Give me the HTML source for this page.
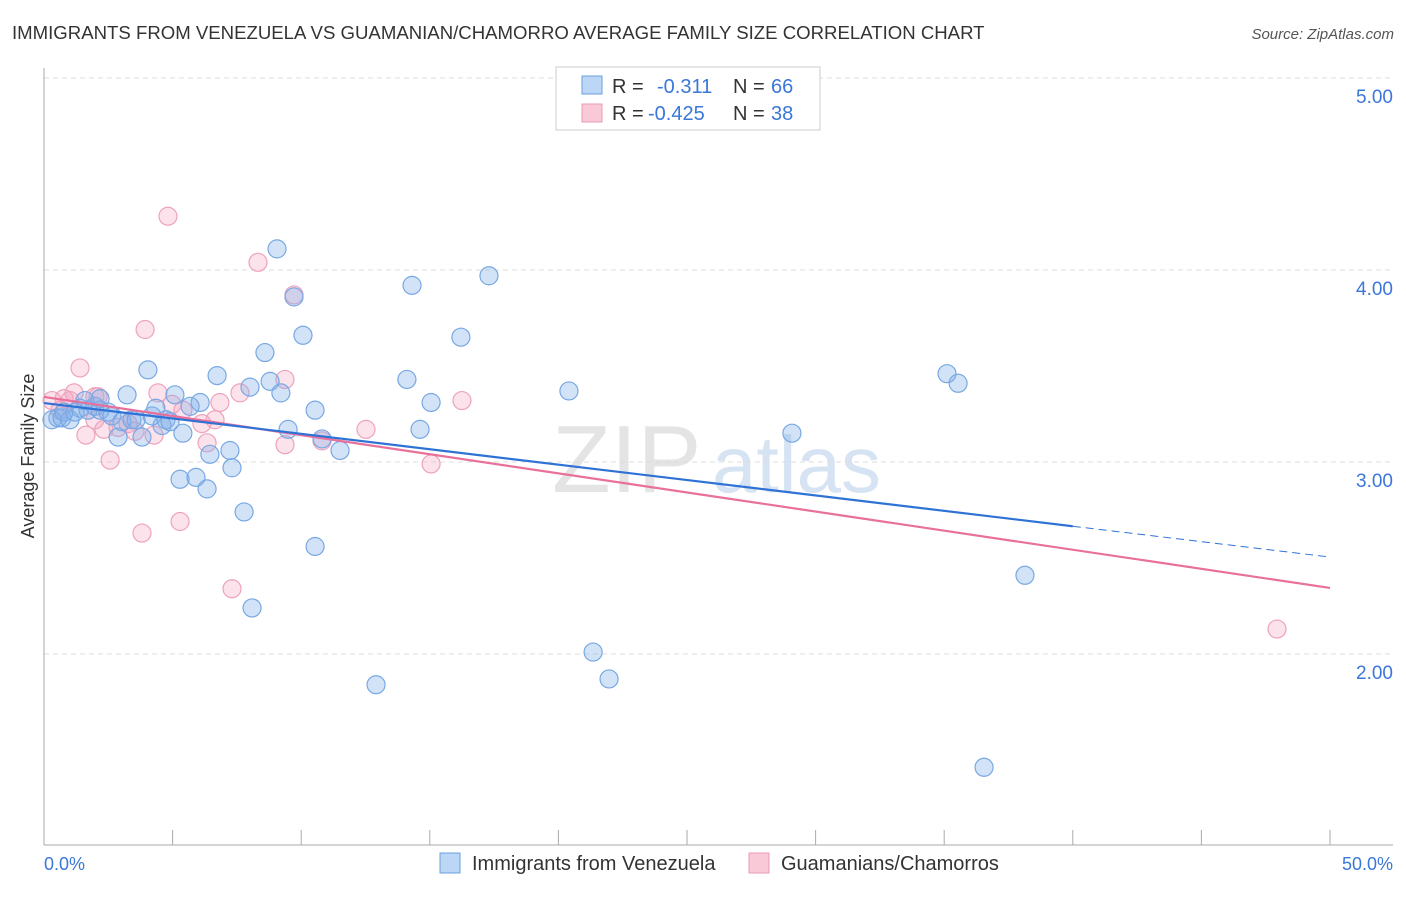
<!DOCTYPE html>
<html><head><meta charset="utf-8"><style>
body{margin:0;background:#fff;font-family:"Liberation Sans",sans-serif}
svg text{font-family:"Liberation Sans",sans-serif}
</style></head><body>
<svg id="c" width="1406" height="892">
<text x="12" y="39" font-size="18.6" fill="#333">IMMIGRANTS FROM VENEZUELA VS GUAMANIAN/CHAMORRO AVERAGE FAMILY SIZE CORRELATION CHART</text>
<text x="1394" y="39" font-size="15" fill="#555" font-style="italic" text-anchor="end">Source: ZipAtlas.com</text>
<text x="552" y="492" font-size="96" fill="#e4e4e4" font-family="Liberation Serif">ZIP</text>
<text x="712" y="492" font-size="80" fill="#d5e3f3">atlas</text>
<g id="grid"></g><g id="axes"></g><g id="pts"></g><g id="trend"></g>
<g>
<rect x="556" y="67" width="264" height="63" fill="#fff" stroke="#ccc"/>
<rect x="582" y="76" width="20" height="18" fill="#bcd6f5" stroke="#6a9fe0"/>
<text x="612" y="93" font-size="20" fill="#333">R = </text><text x="657" y="93" font-size="20" fill="#3a77d8">-0.311</text>
<text x="733" y="93" font-size="20" fill="#333">N = </text><text x="771" y="93" font-size="20" fill="#3a77d8">66</text>
<rect x="582" y="104" width="20" height="18" fill="#f9c9d8" stroke="#eb9ab5"/>
<text x="612" y="120" font-size="20" fill="#333">R = </text><text x="648" y="120" font-size="20" fill="#3a77d8">-0.425</text>
<text x="733" y="120" font-size="20" fill="#333">N = </text><text x="771" y="120" font-size="20" fill="#3a77d8">38</text>
</g>
<g>
<rect x="440" y="853" width="20" height="20" fill="#bcd6f5" stroke="#6a9fe0"/>
<text x="472" y="870" font-size="20" fill="#333">Immigrants from Venezuela</text>
<rect x="749" y="853" width="20" height="20" fill="#f9c9d8" stroke="#eb9ab5"/>
<text x="781" y="870" font-size="20" fill="#333">Guamanians/Chamorros</text>
</g>
<text x="44" y="870" font-size="18" fill="#3a77d8">0.0%</text>
<text x="1393" y="870" font-size="18" fill="#3a77d8" text-anchor="end">50.0%</text>
<text transform="translate(34,456) rotate(-90)" font-size="18" fill="#333" text-anchor="middle">Average Family Size</text>
</svg>
<script>
const yTicks=[2,3,4,5];
const yTickLabels=["2.00","3.00","4.00","5.00"];
const blueX=[0.31,0.54,0.70,1.01,1.21,1.40,1.71,1.98,2.18,2.49,2.64,2.88,3.03,3.23,3.42,3.58,3.81,4.04,4.20,4.35,4.59,4.74,4.90,5.09,5.40,5.29,5.68,5.91,6.07,6.34,6.45,6.73,7.23,7.31,7.78,8.01,8.09,8.59,8.79,9.06,9.21,9.49,9.72,10.07,10.54,10.54,10.81,11.51,12.91,14.11,14.31,14.62,15.05,16.21,17.30,20.41,21.35,21.97,29.08,35.11,35.54,36.55,38.14,0.78,1.59,2.18];
const blueY=[3.22,3.23,3.23,3.22,3.26,3.28,3.27,3.29,3.27,3.26,3.24,3.13,3.21,3.35,3.22,3.22,3.13,3.48,3.24,3.28,3.19,3.22,3.21,3.35,3.15,2.91,3.29,2.92,3.31,2.86,3.04,3.45,3.06,2.97,2.74,3.39,2.24,3.57,3.42,4.11,3.36,3.17,3.86,3.66,3.27,2.56,3.12,3.06,1.84,3.43,3.92,3.17,3.31,3.65,3.97,3.37,2.01,1.87,3.15,3.46,3.41,1.41,2.41,3.26,3.32,3.33];
const pinkX=[0.31,0.62,1.01,1.17,1.63,1.98,2.10,2.33,2.57,2.88,3.27,3.54,3.81,3.93,4.28,4.43,4.82,4.98,5.29,5.40,6.14,6.34,6.65,6.84,7.31,7.62,8.32,9.37,9.37,9.72,10.81,12.52,15.05,16.25,47.94,1.40,1.98,0.78];
const pinkY=[3.32,3.27,3.32,3.36,3.14,3.34,3.34,3.17,3.01,3.18,3.20,3.16,2.63,3.69,3.14,3.36,4.28,3.30,2.69,3.27,3.20,3.10,3.22,3.31,2.34,3.36,4.04,3.43,3.09,3.87,3.11,3.17,2.99,3.32,2.13,3.49,3.22,3.33];
const blueTrend=[3.307,2.505];
const pinkTrend=[3.339,2.344];
const blueSolidEnd=40;
const NS="http://www.w3.org/2000/svg";
const X=v=>44+v/50*1286, Y=v=>462-(v-3)*192;
function mk(t,a,p){const e=document.createElementNS(NS,t);for(const k in a)e.setAttribute(k,a[k]);p.appendChild(e);return e;}
const grid=document.getElementById('grid'),axes=document.getElementById('axes');
yTicks.forEach((t,i)=>{
 const l=mk('line',{x1:44,x2:1393,y1:Y(t),y2:Y(t),stroke:'#ddd','stroke-dasharray':'5,4'},grid);
 
 
 const tx=mk('text',{x:1393,y:Y(t)+25,'font-size':19,fill:'#3a77d8','text-anchor':'end'},grid);
 tx.textContent=yTickLabels[i];
 
 
});
mk('line',{x1:44,x2:44,y1:68,y2:845,stroke:'#aaa'},axes);
mk('line',{x1:44,x2:1393,y1:845,y2:845,stroke:'#aaa'},axes);
for(let i=0;i<=10;i++){const t=mk('line',{x1:X(i*5),x2:X(i*5),y1:830,y2:845,stroke:'#aaa'},axes);
 
 }
const pts=document.getElementById('pts');
function dots(xs,ys,fill,stroke,name){xs.forEach((x,i)=>{
 const c=mk('circle',{cx:X(x),cy:Y(ys[i]),r:9,fill:fill,stroke:stroke,'stroke-width':1.2},pts);
 
 });}
dots(pinkX,pinkY,'rgba(243,160,188,0.3)','#eea3bc','point-guamanian');
dots(blueX,blueY,'rgba(130,175,232,0.35)','#78a8e4','point-venezuela');
const tr=document.getElementById('trend');
const by=x=>blueTrend[0]+(blueTrend[1]-blueTrend[0])*x/50;
let l1=mk('line',{x1:X(0),y1:Y(pinkTrend[0]),x2:X(50),y2:Y(pinkTrend[1]),stroke:'#e8709a','stroke-width':2.2},tr);


let l2=mk('line',{x1:X(0),y1:Y(by(0)),x2:X(blueSolidEnd),y2:Y(by(blueSolidEnd)),stroke:'#2f72d6','stroke-width':2.2},tr);


let l3=mk('line',{x1:X(blueSolidEnd),y1:Y(by(blueSolidEnd)),x2:X(50),y2:Y(by(50)),stroke:'#2f72d6','stroke-width':1,'stroke-dasharray':'8,5'},tr);


</script>
</body></html>
